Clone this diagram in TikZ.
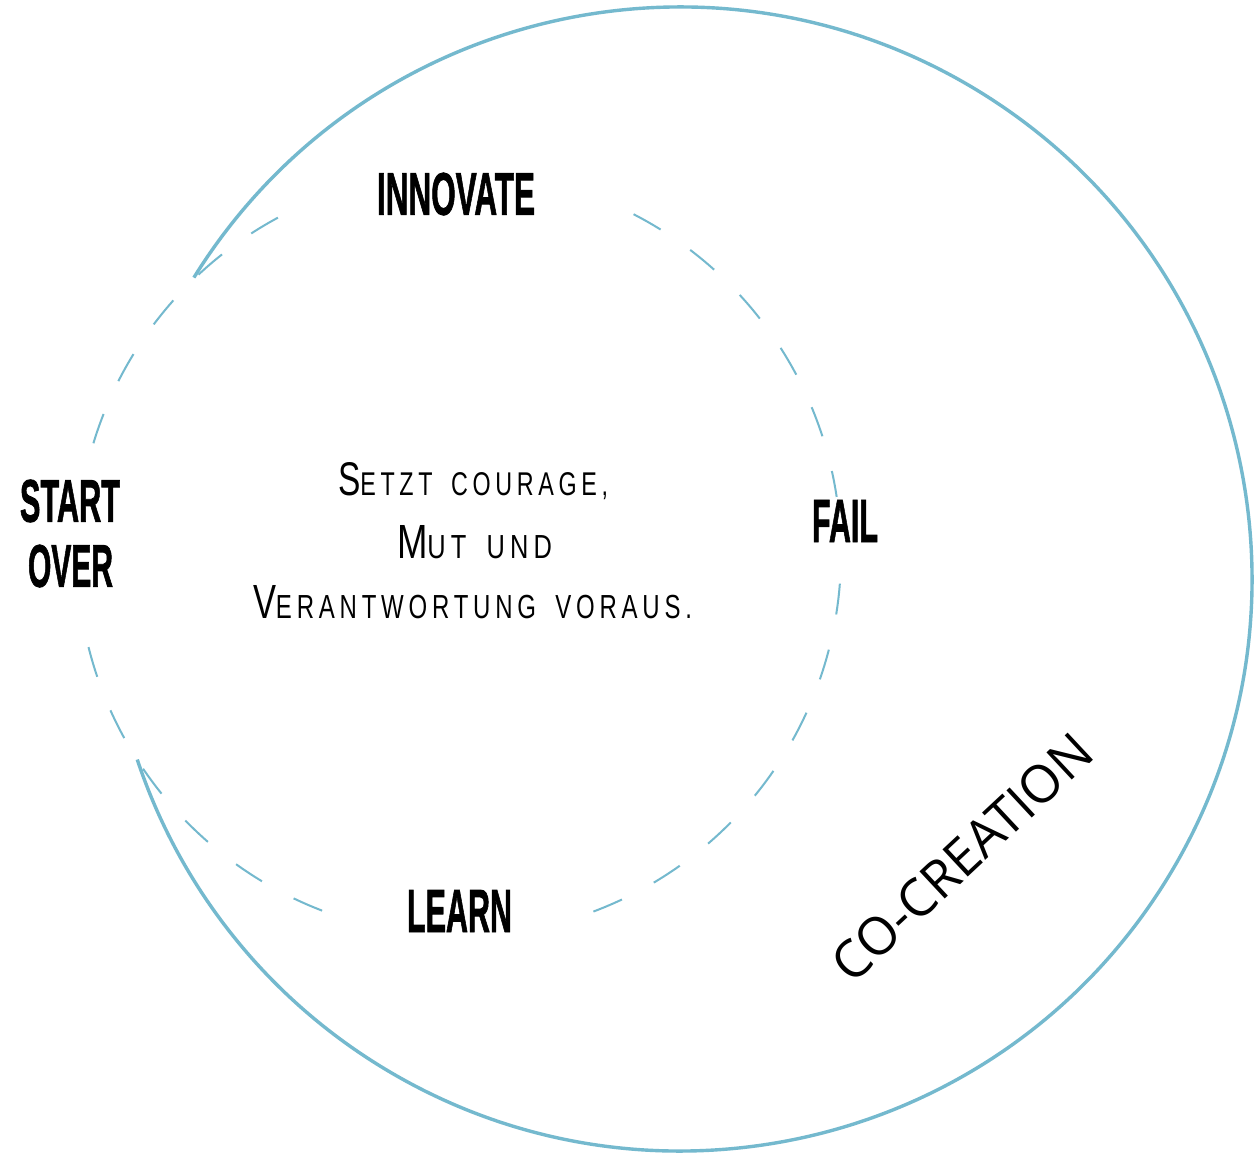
\documentclass[tikz,border=0pt]{standalone}
\usepackage{fontspec}
\setmainfont{Liberation Sans}
\newfontfamily\cofont{Open Sans}
\newfontfamily\heavyfont[FakeBold=1.6]{Liberation Sans Bold}
\newfontfamily\thinfont[LetterSpace=20]{Liberation Sans}
\usetikzlibrary{calc}
\definecolor{ringblue}{RGB}{116,185,206}
\newcommand\labelbox[3]{\resizebox{#1}{#2}{\heavyfont #3}}
\newcommand\wsp{\hspace{0.8em}}
\newcommand\capline[4]{\resizebox{#1}{#2}{\thinfont\fontsize{23}{23}\selectfont #3\fontsize{16}{16}\selectfont #4}}
\begin{document}
\begin{tikzpicture}[x=0.5pt,y=0.5pt,
  ring/.style={draw=ringblue, line width=1.7pt},
  dashring/.style={draw=ringblue, line width=1pt, dash pattern=on 15.5pt off 18pt},
  boldlabel/.style={inner sep=0pt, text=black},
  bodytext/.style={inner sep=0pt, anchor=base, text=black}]
\useasboundingbox (0,0) rectangle (1258,1153);
\fill[white] (0,0) rectangle (1258,1153);
\coordinate (D) at (459,599);
\coordinate (B) at (680,574);
% dashed inner ring in four pieces
\draw[dashring] (D) ++(118.3:191pt) arc[start angle=118.3, end angle=168.1, radius=191pt];
\draw[dashring] (D) ++(249:191pt) arc[start angle=249, end angle=191, radius=191pt];
\draw[dashring] (D) ++(290.6:191pt) arc[start angle=290.6, end angle=360.15, radius=191pt];
\draw[dashring] (D) ++(62.8:191pt) arc[start angle=62.8, end angle=8.6, radius=191pt];
% outer solid ring
\draw[ring] (B) ++(148.2:286pt) arc[start angle=148.2, end angle=-161.6, radius=286pt];
% labels
\node[boldlabel] (innovate) at (456,959) {\labelbox{79pt}{21pt}{INNOVATE}};
\node[boldlabel] (start) at (70,652) {\labelbox{50pt}{21pt}{START}};
\node[boldlabel] (over) at (70.5,587) {\labelbox{42.5pt}{21pt}{OVER}};
\node[boldlabel] (fail) at (845,632) {\labelbox{33pt}{21pt}{FAIL}};
\node[boldlabel] (learn) at (459.5,242) {\labelbox{52.5pt}{21pt}{LEARN}};
% centre text
\node[bodytext] (line1) at (473,658) {\capline{135pt}{16.5pt}{S}{ETZT\wsp COURAGE,}};
\node[bodytext] (line2) at (474.5,595) {\capline{77.5pt}{16.5pt}{M}{UT\wsp UND}};
\node[bodytext] (line3) at (472.5,535) {\capline{219.5pt}{16.5pt}{V}{ERANTWORTUNG\wsp VORAUS.}};
% co-creation
\node[inner sep=0pt, rotate=43, text=black] (cocreation) at (962,295.5) {\cofont\fontsize{26}{26}\selectfont CO-CREATION};
\end{tikzpicture}
\end{document}
